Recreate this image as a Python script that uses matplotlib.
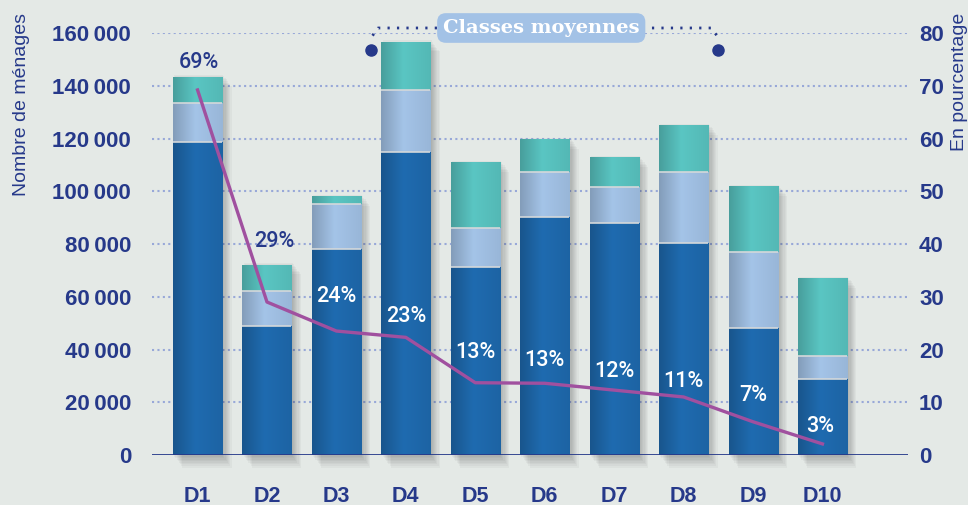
import matplotlib.pyplot as plt
import numpy as np
from matplotlib.colors import to_rgb

# Nombre de ménages par décile (trois segments empilés) et part en %
deciles = ["D1", "D2", "D3", "D4", "D5", "D6", "D7", "D8", "D9", "D10"]
menages_bas = [118700, 49000, 78000, 114700, 71400, 90400, 87800, 80500, 48000, 28800]
menages_milieu = [14900, 13300, 17000, 23700, 14600, 16800, 13700, 26700, 28800, 8600]
menages_haut = [9700, 9700, 2800, 17900, 24700, 12200, 11100, 17500, 24800, 29300]
part = [69.2, 29.0, 23.5, 22.3, 13.7, 13.6, 12.3, 11.0, 6.3, 2.1]
part_labels = ["69%", "29%", "24%", "23%", "13%", "13%", "12%", "11%", "7%", "3%"]
groupe_label = "Classes moyennes"
groupe = ("D4", "D8")

BG = "#e4e9e6"
NAVY = "#26398a"
GRID = "#98a8d8"
DARK = "#1f6bb0"
LIGHT = "#a4c4e8"
TEAL = "#5ac6c3"
PURPLE = "#a0509f"
SANS = ["Liberation Sans", "DejaVu Sans"]

plt.rcParams["font.family"] = SANS


def gradient(color, n=64):
    """Horizontal shading, darker on the left edge of the bar."""
    t = np.linspace(0, 1, n)
    f = np.interp(t, [0, 0.45, 1], [0.80, 1.0, 0.93])
    rgb = np.array(to_rgb(color))
    return (rgb[None, :] * f[:, None])[None, :, :]


fig = plt.figure(figsize=(9.68, 5.05), dpi=100, facecolor=BG)
ax = fig.add_axes([152 / 968, 1 - 455 / 505, (908 - 152) / 968, (455 - 33) / 505])
ax.set_facecolor(BG)

x = np.arange(len(deciles))
w = 0.706

# gridlines
for yv in range(20000, 160001, 20000):
    ax.axhline(yv, color=GRID, lw=1.5, linestyle=(0, (1, 1.6)), zorder=0)

bas = np.array(menages_bas)
mid = bas + np.array(menages_milieu)
tot = mid + np.array(menages_haut)

# soft drop shadow on the right of and below each bar
for k in range(1, 9):
    ax.bar(x + 0.017 * k, tot + 1500, width=w, bottom=-600 * k,
           color="black", alpha=0.032, lw=0, zorder=1, clip_on=False)

for i in range(len(x)):
    segs = [(0, bas[i], DARK), (bas[i], mid[i], LIGHT), (mid[i], tot[i], TEAL)]
    for lo, hi, c in segs:
        ax.imshow(gradient(c), extent=(x[i] - w / 2, x[i] + w / 2, lo, hi),
                  aspect="auto", interpolation="bicubic", zorder=2)
    ax.hlines([bas[i], mid[i]], x[i] - w / 2, x[i] + w / 2,
              color="#d4d8da", lw=1.2, zorder=3)

ax.axhline(0, color=NAVY, lw=2, zorder=5)

ax.set_xlim(-0.656, 10.232)
ax.set_ylim(0, 160000)
for s in ax.spines.values():
    s.set_visible(False)
ax.set_xticks(x)
ax.set_xticklabels(deciles, fontsize=15.5, fontweight="bold", color=NAVY)
ax.set_yticks(range(0, 160001, 20000))
ax.set_yticklabels([f"{v:,}".replace(",", "\u2009") for v in range(0, 160001, 20000)],
                   fontsize=16, fontweight="bold", color=NAVY)
ax.tick_params(axis="x", length=0, pad=22)
ax.tick_params(axis="y", length=0, pad=15)

# percentage line on the right axis
ax2 = ax.twinx()
ax2.set_ylim(0, 80)
for s in ax2.spines.values():
    s.set_visible(False)
ax2.set_yticks(range(0, 81, 10))
ax2.set_yticklabels([str(v) for v in range(0, 81, 10)],
                    fontsize=16, fontweight="bold", color=NAVY)
ax2.tick_params(axis="y", length=0, pad=8)
ax2.plot(x, part, color=PURPLE, lw=2.4, zorder=6)

dx = [1, 7, 0, 0, 0, 0, 0, 0, 0, -2]
dy = [27, 61, 35, 21, 30, 23, 19, 15, 26, 17]
for i, lab in enumerate(part_labels):
    col = NAVY if i < 2 else "white"
    ax2.annotate(lab, (x[i], part[i]), xytext=(dx[i] * 0.72, dy[i] * 0.72),
                 textcoords="offset points", ha="center", va="center",
                 fontsize=15.5, fontweight="medium", family=["Roboto", "DejaVu Sans"],
                 color=col, zorder=7)

# bracket for the middle classes
lo = deciles.index(groupe[0]) - 0.5
hi = deciles.index(groupe[1]) + 0.5
ytop = 161900
ax.plot([lo + 0.02, lo + 0.1, hi - 0.1, hi - 0.02], [159000, ytop, ytop, 159000],
        color=NAVY, lw=2, linestyle=(0, (0.8, 2.6)), clip_on=False, zorder=8)
ax.plot([lo, hi], [153500, 153500], "o", ms=8, color=NAVY, clip_on=False, zorder=8)
ax.text((lo + hi) / 2 - 0.05, ytop, groupe_label, ha="center", va="center",
        fontsize=14, fontweight="bold", family="DejaVu Serif", color="white",
        clip_on=False, zorder=9,
        bbox=dict(boxstyle="round,pad=0.3,rounding_size=0.45", fc="#a3c2e6", ec="none"))

fig.text(22 / 968, 1 - 13 / 505, "Nombre de ménages", rotation=90, ha="center",
         va="top", fontsize=14, color=NAVY)
fig.text(960 / 968, 1 - 13 / 505, "En pourcentage", rotation=90, ha="center",
         va="top", fontsize=14, color=NAVY)

fig.savefig("out.png", dpi=100, facecolor=BG)
